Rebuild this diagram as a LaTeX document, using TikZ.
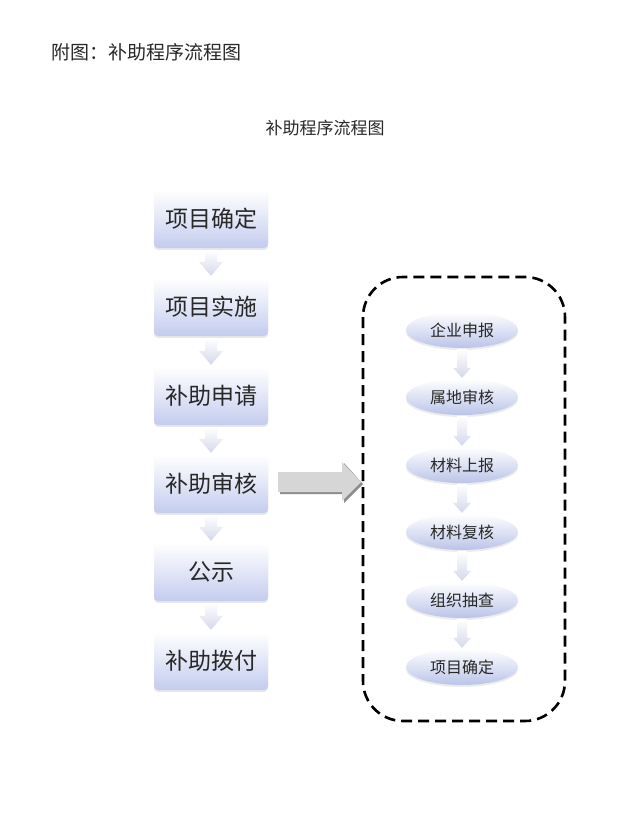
\documentclass[tikz,border=0pt]{standalone}
\usepackage{fontspec}
\newfontfamily\cjk{Noto Sans CJK SC}
\usetikzlibrary{shapes.geometric,calc,shadows}
\definecolor{boxbot}{RGB}{196,204,238}
\definecolor{ellbot}{RGB}{186,196,232}
\definecolor{txt}{RGB}{40,40,40}
\definecolor{sarrow}{RGB}{212,216,234}
\definecolor{bigfill}{RGB}{214,214,214}
\definecolor{bigshadow}{RGB}{140,140,140}
\tikzset{
  stepbox/.style={rectangle,rounded corners=4pt,minimum width=114pt,minimum height=58pt,
    top color=white,bottom color=boxbot,draw=none,
    drop shadow={opacity=0.18,shadow xshift=0pt,shadow yshift=-2pt},
    font=\cjk\fontsize{23}{25}\selectfont,text=txt},
  ellbox/.style={ellipse,minimum width=112pt,minimum height=36pt,inner sep=0pt,
    top color=white,bottom color=ellbot,draw=none,
    drop shadow={opacity=0.15,shadow xshift=0pt,shadow yshift=-2pt},
    font=\cjk\fontsize{16}{18}\selectfont,text=txt},
  arrfill/.style={top color=white,bottom color=sarrow,draw=none},
}
% #1 from node, #2 to node, #3 shaft half, #4 head half, #5 head length, #6 gap
\newcommand\blockdown[6]{%
  \path[arrfill] let \p1=(#1.south), \p2=(#2.north) in
    (\x1-#3,\y1-#6) -- (\x1+#3,\y1-#6) -- (\x1+#3,\y2+#6+#5) -- (\x1+#4,\y2+#6+#5)
    -- (\x1,\y2+#6) -- (\x1-#4,\y2+#6+#5) -- (\x1-#3,\y2+#6+#5) -- cycle;}
\begin{document}
\begin{tikzpicture}[x=1pt,y=-1pt]
\useasboundingbox[fill=white] (0,0) rectangle (630,819);
\node[anchor=west,font=\cjk\fontsize{19}{21}\selectfont,text=txt] (t1) at (48,52) {附图：补助程序流程图};
\node[font=\cjk\fontsize{17}{19}\selectfont,text=txt] (t2) at (325,128) {补助程序流程图};
\node[stepbox] (a1) at (211,219) {项目确定};
\node[stepbox] (a2) at (211,307) {项目实施};
\node[stepbox] (a3) at (211,396) {补助申请};
\node[stepbox] (a4) at (211,484) {补助审核};
\node[stepbox] (a5) at (211,572) {公示};
\node[stepbox] (a6) at (211,661) {补助拨付};
\foreach \i/\j in {a1/a2,a2/a3,a3/a4,a4/a5,a5/a6}
  \blockdown{\i}{\j}{6pt}{12pt}{14pt}{2pt};
\draw[line width=2.6pt,dash pattern=on 11pt off 6pt,rounded corners=40pt] (363,277) rectangle (565,721);
\coordinate (dl) at (361,482);
\node[ellbox] (b1) at (462,330) {企业申报};
\node[ellbox] (b2) at (462,397) {属地审核};
\node[ellbox] (b3) at (462,465) {材料上报};
\node[ellbox] (b4) at (462,532) {材料复核};
\node[ellbox] (b5) at (462,600) {组织抽查};
\node[ellbox] (b6) at (462,667) {项目确定};
\foreach \i/\j in {b1/b2,b2/b3,b3/b4,b4/b5,b5/b6}
  \blockdown{\i}{\j}{5pt}{9pt}{10pt}{1pt};
% big arrow from a4 to the dashed box
\path let \p1=($(a4.east)+(10,-2)$), \p2=(dl) in
  coordinate (s) at (\x1,\y2)
  coordinate (hb) at (\x2-19pt,\y2);
\fill[bigshadow] ($(s)+(2,-10)$) -- ($(hb)+(2,-10)$) -- ($(hb)+(2,-19)$) -- ($(dl)+(2,2)$)
   -- ($(hb)+(2,21)$) -- ($(hb)+(2,12)$) -- ($(s)+(2,12)$) -- cycle;
\fill[bigfill] ($(s)+(0,-10)$) -- ($(hb)+(0,-10)$) -- ($(hb)+(0,-20)$) -- (dl)
   -- ($(hb)+(0,19)$) -- ($(hb)+(0,10)$) -- ($(s)+(0,10)$) -- cycle;
\end{tikzpicture}
\end{document}
